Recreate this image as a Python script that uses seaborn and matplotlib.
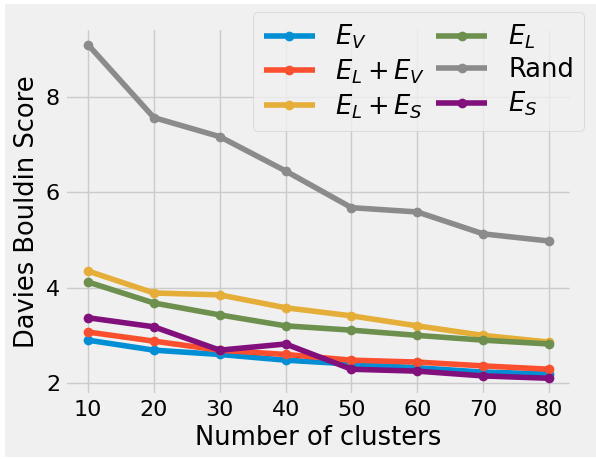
import matplotlib
matplotlib.use('Agg')
import matplotlib.pyplot as plt
from matplotlib.patches import Rectangle
import pandas as pd
import seaborn as sns

## Data
clusters = [10, 20, 30, 40, 50, 60, 70, 80]
e_v = [2.90, 2.69, 2.60, 2.48, 2.40, 2.32, 2.23, 2.19]
e_l_e_v = [3.07, 2.88, 2.69, 2.60, 2.48, 2.44, 2.36, 2.29]
e_l_e_s = [4.35, 3.89, 3.85, 3.58, 3.41, 3.20, 3.00, 2.86]
e_l = [4.12, 3.68, 3.43, 3.20, 3.11, 3.00, 2.90, 2.82]
rand = [9.10, 7.57, 7.17, 6.45, 5.68, 5.59, 5.13, 4.98]
e_s = [3.37, 3.18, 2.69, 2.82, 2.29, 2.25, 2.15, 2.10]

names = [r'$E_V$', r'$E_L + E_V$', r'$E_L + E_S$', r'$E_L$', 'Rand', r'$E_S$']
series = [e_v, e_l_e_v, e_l_e_s, e_l, rand, e_s]

rows = []
for name, vals in zip(names, series):
    for c, v in zip(clusters, vals):
        rows.append({'clusters': c, 'score': v, 'method': name})
df = pd.DataFrame(rows)

## Plot
plt.style.use('fivethirtyeight')
palette = ['#008fd5', '#fc4f30', '#e5ae38', '#6d904f', '#8b8b8b', '#810f7c']

fig = plt.figure(figsize=(5.96, 4.59), dpi=100, facecolor='white')
fig.patches.append(Rectangle((5 / 596, 2 / 459), 1, 1 - 6 / 459,
                             transform=fig.transFigure, facecolor='#f0f0f0',
                             edgecolor='none', zorder=-10))
ax = fig.add_axes([0.109, 0.1395, 0.851, 0.7995])
ax.set_facecolor('#f0f0f0')

sns.lineplot(data=df, x='clusters', y='score', hue='method', hue_order=names,
             palette=palette, marker='o', markersize=7, markeredgewidth=0,
             linewidth=4, ax=ax)

ax.set_xticks(clusters)
ax.set_yticks([2, 4, 6, 8])
ax.tick_params(axis='both', labelsize=16)
ax.set_xlabel('Number of clusters', fontsize=18.5)
ax.set_ylabel('Davies Bouldin Score', fontsize=18.5)

handles, labels = ax.get_legend_handles_labels()
ax.legend(handles, labels, ncol=2, loc='upper right', fontsize=18.5,
          bbox_to_anchor=(1.049, 1.078), columnspacing=0.4,
          handlelength=2.0, labelspacing=0.25, borderpad=0.4)

fig.savefig('out.png', dpi=100, facecolor=fig.get_facecolor())
